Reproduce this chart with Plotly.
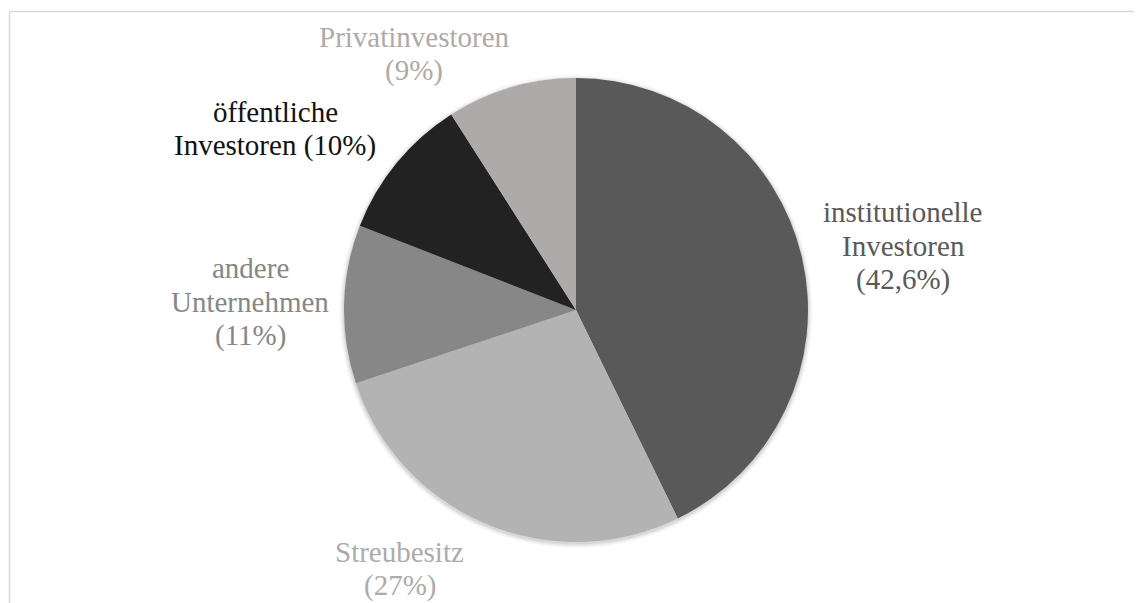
import plotly.graph_objects as go

categories = ["institutionelle Investoren", "Streubesitz", "andere Unternehmen",
              "öffentliche Investoren", "Privatinvestoren"]
values = [42.6, 27, 11, 10, 9]
label_lines = [["institutionelle", "Investoren", "(42,6%)"],
               ["Streubesitz", "(27%)"],
               ["andere", "Unternehmen", "(11%)"],
               ["öffentliche", "Investoren (10%)"],
               ["Privatinvestoren", "(9%)"]]
slice_colors = ["#595959", "#b3b3b3", "#878787", "#222222", "#aeaaaa"]
label_colors = ["#595959", "#ababab", "#878787", "#111111", "#aeaaaa"]

# page offset (body margin) and figure size
OFF = 8
W, H = 1142, 603
# pie centre / radius in page pixels
cx, cy, r = 576 - OFF, 310 - OFF, 232
# label centres (x, first line y) in page pixels, line step
label_pos = [(903, 212), (400, 552), (250, 268), (275, 112), (414, 37)]
LINE = 33.5

fig = go.Figure()
fig.add_trace(go.Pie(
    labels=categories, values=values, sort=False, direction="clockwise",
    rotation=0, marker=dict(colors=slice_colors, line=dict(width=0)),
    textinfo="none", hoverinfo="label+percent", showlegend=False,
    domain=dict(x=[(cx - r) / W, (cx + r) / W], y=[1 - (cy + r) / H, 1 - (cy - r) / H]),
))

shapes = []
for i, op in enumerate([0.05, 0.04, 0.03, 0.02, 0.015]):
    rr = r + 1 + i
    shapes.append(dict(type="circle", xref="paper", yref="paper", layer="below",
                       x0=(cx - rr) / W, x1=(cx + rr) / W,
                       y0=1 - (cy + rr + 1.5) / H, y1=1 - (cy - rr + 1.5) / H,
                       fillcolor=f"rgba(0,0,0,{op})", line=dict(width=0)))
fx, fy = 9.5 - OFF, 11.5 - OFF
shapes.append(dict(type="line", xref="paper", yref="paper",
                   x0=fx / W, x1=1.0, y0=1 - fy / H, y1=1 - fy / H,
                   line=dict(color="#d9d9d9", width=1.5)))
shapes.append(dict(type="line", xref="paper", yref="paper",
                   x0=fx / W, x1=fx / W, y0=1 - fy / H, y1=0,
                   line=dict(color="#d9d9d9", width=1.5)))

annotations = []
for lines, col, (px, py) in zip(label_lines, label_colors, label_pos):
    for k, ln in enumerate(lines):
        yy = py + k * LINE - OFF
        annotations.append(dict(text=ln, x=(px - OFF) / W, y=1 - yy / H,
                                xref="paper", yref="paper", showarrow=False,
                                xanchor="center", yanchor="middle", align="center",
                                font=dict(family="Liberation Serif, Times New Roman, serif",
                                          size=29, color=col)))

fig.update_layout(width=W, height=H, margin=dict(l=0, r=0, t=0, b=0),
                  paper_bgcolor="white", plot_bgcolor="white",
                  shapes=shapes, annotations=annotations)
fig.write_html("out.html")
